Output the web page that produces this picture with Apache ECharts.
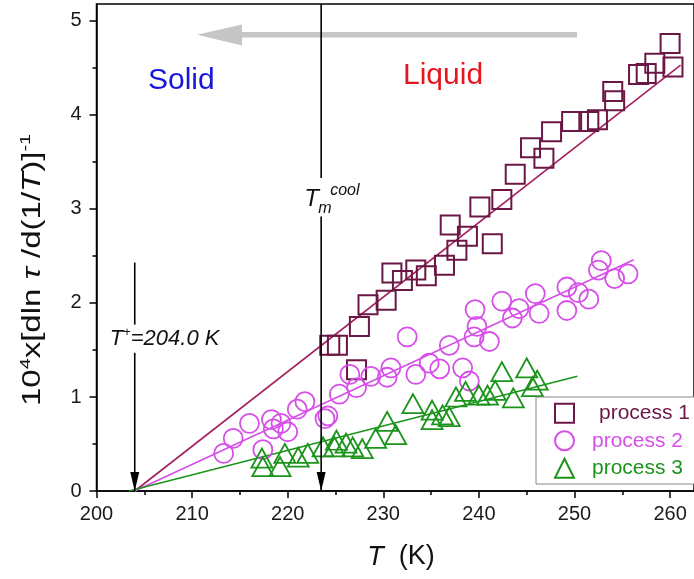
<!DOCTYPE html>
<html>
<head>
<meta charset="utf-8">
<script src="https://cdn.jsdelivr.net/npm/echarts@6/dist/echarts.min.js"></script>
<style>
html, body { margin: 0; padding: 0; background: #fff; }
#chart { width: 694px; height: 579px; }
</style>
</head>
<body>
<div id="chart"></div>
<script>
// Process 1: temperature T (K) and 10^4 x [d ln tau / d(1/T)]^-1
const p1T = [224.4, 225.2, 227.2, 227.5, 228.4, 230.3, 230.9, 232.0, 233.4, 234.5, 236.4, 237.0, 237.7, 238.8, 240.1, 241.4, 242.4, 243.8, 245.4, 246.8, 247.6, 249.7, 251.5, 252.4, 254.0, 254.2, 256.7, 257.5, 258.4, 260.0, 260.3];
const p1V = [1.55, 1.55, 1.29, 1.75, 1.98, 2.03, 2.32, 2.24, 2.35, 2.29, 2.40, 2.83, 2.56, 2.71, 3.02, 2.63, 3.10, 3.37, 3.65, 3.54, 3.82, 3.93, 3.93, 3.95, 4.25, 4.15, 4.43, 4.44, 4.55, 4.76, 4.51];

// Process 2
const p2T = [213.3, 214.3, 216.0, 217.4, 218.3, 218.5, 219.3, 220.0, 221.0, 221.8, 223.9, 224.2, 225.4, 226.5, 227.2, 228.7, 230.4, 230.8, 232.5, 233.4, 234.8, 235.9, 236.9, 238.3, 239.0, 239.5, 239.6, 239.8, 241.1, 242.4, 243.5, 244.2, 245.9, 246.3, 249.2, 249.2, 250.4, 251.5, 252.5, 252.8, 254.2, 255.6];
const p2V = [0.40, 0.56, 0.72, 0.44, 0.76, 0.66, 0.72, 0.63, 0.87, 0.95, 0.77, 0.80, 1.03, 1.24, 1.10, 1.22, 1.21, 1.31, 1.64, 1.24, 1.36, 1.30, 1.55, 1.31, 1.17, 1.64, 1.93, 1.75, 1.59, 2.02, 1.84, 1.94, 2.10, 1.89, 2.17, 1.92, 2.11, 2.04, 2.35, 2.45, 2.26, 2.31];

// Process 3
const p3T = [217.3, 217.4, 219.2, 219.7, 221.1, 222.1, 223.7, 224.9, 225.1, 226.1, 226.8, 227.8, 229.2, 230.4, 231.3, 233.1, 235.1, 235.1, 236.2, 236.9, 237.6, 238.6, 240.0, 240.9, 241.7, 242.4, 243.6, 245.0, 245.6, 246.1];
const p3V = [0.35, 0.26, 0.26, 0.40, 0.36, 0.40, 0.47, 0.47, 0.54, 0.51, 0.47, 0.45, 0.56, 0.74, 0.60, 0.93, 0.86, 0.76, 0.81, 0.79, 1.00, 1.06, 1.02, 1.02, 1.07, 1.27, 0.99, 1.31, 1.11, 1.18];

// Linear fits (end points), all extrapolated to T+ on the T axis
const fit1T = [204.0, 261.1], fit1V = [0, 4.53];
const fit2T = [204.0, 256.2], fit2V = [0, 2.46];
const fit3T = [203.4, 250.3], fit3V = [0, 1.22];

// Characteristic temperatures (K)
const tPlus = 204.0;
const tMeltCool = 223.5;

// Axis ticks
const xMajorTicks = [200, 210, 220, 230, 240, 250, 260];
const xMinorTicks = [205, 215, 225, 235, 245, 255];
const yMajorTicks = [0, 1, 2, 3, 4, 5];
const yMinorTicks = [0.5, 1.5, 2.5, 3.5, 4.5];

const seriesNames = ['process 1', 'process 2', 'process 3'];

const FONT = '"Liberation Sans", Arial, sans-serif';
const C1 = '#6b1745', C1fit = '#a3215f';
const C2 = '#d64fe8';
const C3 = '#1c941c';

const zip = (a, b) => a.map((v, i) => [v, b[i]]);

const X_MIN = 200, X_MAX = 262.5, Y_MIN = 0, Y_MAX = 5.18;

const chart = echarts.init(document.getElementById('chart'), null, { renderer: 'canvas' });

const axisBlack = { color: '#000', width: 1.5 };

function vSegment(x, yFrom, yTo, arrow) {
  const data = [[x, yFrom], arrow ? { value: [x, yTo], symbol: 'triangle', symbolRotate: 180, symbolSize: [9, 19], symbolOffset: [0, '-50%'] } : [x, yTo]];
  return {
    type: 'line', data, silent: true, clip: false,
    symbol: 'none', showSymbol: true,
    lineStyle: { color: '#000', width: 1.6 },
    itemStyle: { color: '#000' },
    z: 4
  };
}

const hollow = (color, width) => ({ color: 'rgba(255,255,255,0)', borderColor: color, borderWidth: width, opacity: 1 });

chart.setOption({
  animation: false,
  backgroundColor: '#fff',
  grid: { left: 96.5, top: 4, width: 600, height: 487, show: true, borderColor: '#000', borderWidth: 1.5 },
  xAxis: [
    {
      type: 'value', min: X_MIN, max: X_MAX, position: 'bottom',
      axisLine: { show: true, lineStyle: axisBlack },
      axisTick: { show: true, customValues: xMajorTicks, length: 7, lineStyle: axisBlack },
      axisLabel: { customValues: xMajorTicks, fontSize: 20, margin: 13, color: '#1a1a1a', fontFamily: FONT },
      splitLine: { show: false }
    },
    {
      type: 'value', min: X_MIN, max: X_MAX, position: 'bottom', gridIndex: 0,
      axisLine: { show: false },
      axisTick: { show: true, customValues: xMinorTicks, length: 4, lineStyle: axisBlack },
      axisLabel: { show: false },
      splitLine: { show: false }
    }
  ],
  yAxis: [
    {
      type: 'value', min: Y_MIN, max: Y_MAX, position: 'left',
      axisLine: { show: true, lineStyle: axisBlack },
      axisTick: { show: true, customValues: yMajorTicks, length: 7, lineStyle: axisBlack },
      axisLabel: { customValues: yMajorTicks, fontSize: 20, margin: 15, color: '#1a1a1a', fontFamily: FONT },
      splitLine: { show: false }
    },
    {
      type: 'value', min: Y_MIN, max: Y_MAX, position: 'left', gridIndex: 0,
      axisLine: { show: false },
      axisTick: { show: true, customValues: yMinorTicks, length: 4, lineStyle: axisBlack },
      axisLabel: { show: false },
      splitLine: { show: false }
    }
  ],
  legend: {
    data: seriesNames,
    orient: 'vertical',
    left: 536, top: 397, z: 8,
    padding: [5, 10, 5, 18],
    itemWidth: 19, itemHeight: 19, itemGap: 5,
    backgroundColor: 'transparent',
    borderWidth: 0,
    selectedMode: false,
    formatter: name => '{p' + (seriesNames.indexOf(name) + 1) + '|' + name + '}',
    textStyle: {
      fontSize: 21, fontFamily: FONT, lineHeight: 22.5,
      rich: {
        p1: { fontSize: 21, fontFamily: FONT, color: C1, padding: [0, 0, 0, 20] },
        p2: { fontSize: 21, fontFamily: FONT, color: C2, padding: [0, 0, 0, 13] },
        p3: { fontSize: 21, fontFamily: FONT, color: C3, padding: [0, 0, 0, 13] }
      }
    }
  },
  series: [
    {
      name: seriesNames[0], type: 'scatter', data: zip(p1T, p1V),
      symbol: 'rect', symbolSize: 19,
      itemStyle: hollow(C1, 2), z: 3
    },
    {
      name: seriesNames[1], type: 'scatter', data: zip(p2T, p2V),
      symbol: 'circle', symbolSize: 19,
      itemStyle: hollow(C2, 1.8), z: 3
    },
    {
      name: seriesNames[2], type: 'scatter', data: zip(p3T, p3V),
      symbol: 'triangle', symbolSize: [21, 19],
      itemStyle: hollow(C3, 1.8), z: 3
    },
    { type: 'line', data: zip(fit1T, fit1V), symbol: 'none', silent: true, lineStyle: { color: C1fit, width: 1.6 }, z: 2 },
    { type: 'line', data: zip(fit2T, fit2V), symbol: 'none', silent: true, lineStyle: { color: C2, width: 1.6 }, z: 2 },
    { type: 'line', data: zip(fit3T, fit3V), symbol: 'none', silent: true, lineStyle: { color: C3, width: 1.6 }, z: 2 },
    // T+ marker: arrow pointing to the T axis, broken around its label
    vSegment(tPlus, 2.43, 1.77, false),
    vSegment(tPlus, 1.47, 0, true),
    // T_m(cool) marker
    vSegment(tMeltCool, Y_MAX, 3.33, false),
    vSegment(tMeltCool, 2.92, 0, true)
  ]
});

// Annotation texts, legend frame and the cooling-direction arrow
const px = (t, v) => chart.convertToPixel({ xAxisIndex: 0, yAxisIndex: 0 }, [t, v]);
const pPlus = px(tPlus, 1.62);
const pMelt = px(tMeltCool, 3.12);

chart.setOption({
  graphic: [
    // legend frame, running past the right edge of the figure
    {
      type: 'rect', z: 7, silent: true,
      shape: { x: 536, y: 397, width: 200, height: 87 },
      style: { fill: '#fff', stroke: '#888', lineWidth: 1 }
    },
    // cooling direction arrow
    {
      type: 'group', z: 1, silent: true,
      children: [
        { type: 'rect', shape: { x: 238, y: 32, width: 339, height: 5.5 }, style: { fill: '#c6c6c6' } },
        { type: 'polygon', shape: { points: [[197, 34.8], [242, 24.5], [242, 45.5]] }, style: { fill: '#c6c6c6' } }
      ]
    },
    {
      type: 'text', left: 148, top: 66, silent: true,
      style: { text: 'Solid', font: '30px ' + FONT, fill: '#1616dc' }
    },
    {
      type: 'text', left: 403, top: 61, silent: true,
      style: { text: 'Liquid', font: '30px ' + FONT, fill: '#e8151e' }
    },
    {
      type: 'text', x: pPlus[0] - 25, y: pPlus[1], silent: true,
      style: {
        text: '{i|T}{s|+}{i|=204.0 K}',
        verticalAlign: 'middle', align: 'left',
        rich: {
          i: { font: 'italic 22px ' + FONT, fill: '#111', lineHeight: 26 },
          s: { font: '13px ' + FONT, fill: '#111', verticalAlign: 'top', lineHeight: 26 }
        }
      }
    },
    {
      type: 'text', x: pMelt[0] - 17, y: pMelt[1] + 2, silent: true,
      style: { text: 'T', font: 'italic 24px ' + FONT, fill: '#111', verticalAlign: 'middle', align: 'left' }
    },
    {
      type: 'text', x: pMelt[0] + 9, y: pMelt[1] - 7, silent: true,
      style: { text: 'cool', font: 'italic 16px ' + FONT, fill: '#111', verticalAlign: 'middle', align: 'left' }
    },
    {
      type: 'text', x: pMelt[0] - 3, y: pMelt[1] + 11, silent: true,
      style: { text: 'm', font: 'italic 16px ' + FONT, fill: '#111', verticalAlign: 'middle', align: 'left' }
    },
    // axis titles
    {
      type: 'text', x: 33, y: 270, rotation: Math.PI / 2, scaleX: 1.32, silent: true,
      style: {
        text: '{n|10}{s|4}{n|x[dln }{i|τ}{n| /d(1/}{i|T}{n|)]}{s|-1}',
        align: 'center', verticalAlign: 'middle',
        rich: {
          n: { font: '25px ' + FONT, fill: '#111', lineHeight: 30 },
          i: { font: 'italic 25px ' + FONT, fill: '#111', lineHeight: 30 },
          s: { font: '15px ' + FONT, fill: '#111', verticalAlign: 'top', lineHeight: 30 }
        }
      }
    },
    {
      type: 'text', x: 401, y: 557, silent: true,
      style: {
        text: '{i|T}{n|  (K)}',
        align: 'center', verticalAlign: 'middle',
        rich: {
          i: { font: 'italic 27px ' + FONT, fill: '#111' },
          n: { font: '27px ' + FONT, fill: '#111' }
        }
      }
    }
  ]
});
</script>
</body>
</html>
